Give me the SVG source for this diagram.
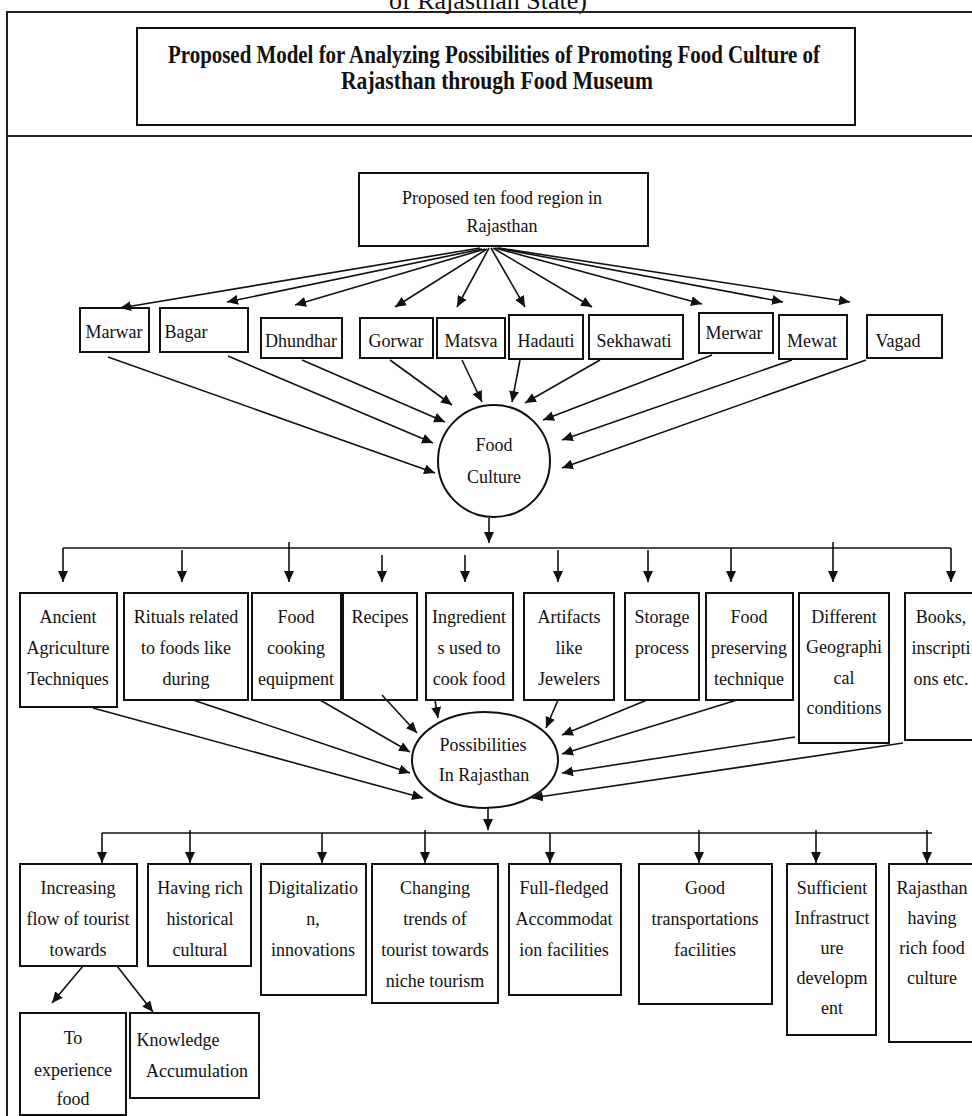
<svg xmlns="http://www.w3.org/2000/svg" width="972" height="1116" viewBox="0 0 972 1116">
<style>
.bx{fill:#fff;stroke:#111;stroke-width:2}
.fr{fill:none;stroke:#222;stroke-width:2}
.t{font-family:"Liberation Serif","Times New Roman",serif;font-size:18px;fill:#111;text-anchor:middle}
.ttl{font-family:"Liberation Serif","Times New Roman",serif;font-size:25px;font-weight:bold;fill:#111;text-anchor:middle}
.ln{fill:none;stroke:#111;stroke-width:1.6}
.ar{fill:none;stroke:#111;stroke-width:1.6;marker-end:url(#ah)}
</style>
<defs>
<marker id="ah" markerUnits="userSpaceOnUse" markerWidth="12" markerHeight="10" refX="11" refY="5" orient="auto">
<path d="M0,0 L11,5 L0,10 z" fill="#111"/>
</marker>
</defs>
<rect width="972" height="1116" fill="#fff"/>
<text x="488" y="9" font-family="Liberation Serif, serif" font-size="26" text-anchor="middle" fill="#111">of Rajasthan State)</text>
<g id="frame">
<path class="fr" d="M7,1116 V12 H972"/>
<path class="fr" d="M7,136 H972"/>
</g>
<g id="title">
<rect class="bx" x="137" y="28" width="718" height="97"/>
<text class="ttl" x="494" y="63" textLength="652" lengthAdjust="spacingAndGlyphs">Proposed Model for Analyzing Possibilities of Promoting Food Culture of</text>
<text class="ttl" x="497" y="89" textLength="312" lengthAdjust="spacingAndGlyphs">Rajasthan through Food Museum</text>
</g>
<g id="n-top"><rect class="bx" x="359" y="173" width="289" height="73"/><text class="t" x="502" y="204">Proposed ten food region in</text><text class="t" x="502" y="232">Rajasthan</text></g>
<g id="n-marwar"><rect class="bx" x="80" y="308" width="69" height="44"/><text class="t" x="114" y="338">Marwar</text></g>
<g id="n-bagar"><rect class="bx" x="160" y="308" width="88" height="44"/><text class="t" x="186" y="338">Bagar</text></g>
<g id="n-dhundhar"><rect class="bx" x="261" y="318" width="81" height="40"/><text class="t" x="301" y="347">Dhundhar</text></g>
<g id="n-gorwar"><rect class="bx" x="360" y="318" width="73" height="40"/><text class="t" x="396" y="347">Gorwar</text></g>
<g id="n-matsva"><rect class="bx" x="437" y="318" width="68" height="40"/><text class="t" x="471" y="347">Matsva</text></g>
<g id="n-hadauti"><rect class="bx" x="509" y="315" width="74" height="44"/><text class="t" x="546" y="347">Hadauti</text></g>
<g id="n-sekhawati"><rect class="bx" x="589" y="315" width="94" height="44"/><text class="t" x="634" y="347">Sekhawati</text></g>
<g id="n-merwar"><rect class="bx" x="699" y="313" width="74" height="40"/><text class="t" x="734" y="339">Merwar</text></g>
<g id="n-mewat"><rect class="bx" x="779" y="315" width="68" height="44"/><text class="t" x="812" y="347">Mewat</text></g>
<g id="n-vagad"><rect class="bx" x="867" y="315" width="75" height="43"/><text class="t" x="898" y="347">Vagad</text></g>
<g id="n-foodculture"><ellipse class="bx" cx="494" cy="461" rx="56" ry="56"/><text class="t" x="494" y="451">Food</text><text class="t" x="494" y="483">Culture</text></g>
<g id="n-ancient"><rect class="bx" x="20" y="593" width="97" height="114"/><text class="t" x="68" y="623">Ancient</text><text class="t" x="68" y="654">Agriculture</text><text class="t" x="68" y="685">Techniques</text></g>
<g id="n-rituals"><rect class="bx" x="124" y="593" width="124" height="107"/><text class="t" x="186" y="623">Rituals related</text><text class="t" x="186" y="654">to foods like</text><text class="t" x="186" y="685">during</text></g>
<g id="n-cooking"><rect class="bx" x="252" y="593" width="89" height="107"/><text class="t" x="296" y="623">Food</text><text class="t" x="296" y="654">cooking</text><text class="t" x="296" y="685">equipment</text></g>
<g id="n-recipes"><rect class="bx" x="343" y="593" width="74" height="107"/><text class="t" x="380" y="623">Recipes</text></g>
<g id="n-ingredients"><rect class="bx" x="426" y="593" width="87" height="107"/><text class="t" x="469" y="623">Ingredient</text><text class="t" x="469" y="654">s used to</text><text class="t" x="469" y="685">cook food</text></g>
<g id="n-artifacts"><rect class="bx" x="524" y="593" width="90" height="107"/><text class="t" x="569" y="623">Artifacts</text><text class="t" x="569" y="654">like</text><text class="t" x="569" y="685">Jewelers</text></g>
<g id="n-storage"><rect class="bx" x="625" y="593" width="74" height="107"/><text class="t" x="662" y="623">Storage</text><text class="t" x="662" y="654">process</text></g>
<g id="n-preserving"><rect class="bx" x="706" y="593" width="87" height="107"/><text class="t" x="749" y="623">Food</text><text class="t" x="749" y="654">preserving</text><text class="t" x="749" y="685">technique</text></g>
<g id="n-different"><rect class="bx" x="799" y="593" width="90" height="150"/><text class="t" x="844" y="623">Different</text><text class="t" x="844" y="653">Geographi</text><text class="t" x="844" y="684">cal</text><text class="t" x="844" y="714">conditions</text></g>
<g id="n-books"><rect class="bx" x="905" y="593" width="80" height="147"/><text class="t" x="941" y="623">Books,</text><text class="t" x="941" y="654">inscripti</text><text class="t" x="941" y="685">ons etc.</text></g>
<g id="n-possibilities"><ellipse class="bx" cx="485" cy="760" rx="73" ry="48"/><text class="t" x="483" y="751">Possibilities</text><text class="t" x="484" y="781">In Rajasthan</text></g>
<g id="n-increasing"><rect class="bx" x="20" y="864" width="117" height="102"/><text class="t" x="78" y="894">Increasing</text><text class="t" x="78" y="925">flow of tourist</text><text class="t" x="78" y="956">towards</text></g>
<g id="n-having"><rect class="bx" x="148" y="864" width="103" height="102"/><text class="t" x="200" y="894">Having rich</text><text class="t" x="200" y="925">historical</text><text class="t" x="200" y="956">cultural</text></g>
<g id="n-digital"><rect class="bx" x="261" y="864" width="105" height="131"/><text class="t" x="313" y="894">Digitalizatio</text><text class="t" x="313" y="925">n,</text><text class="t" x="313" y="956">innovations</text></g>
<g id="n-changing"><rect class="bx" x="372" y="864" width="126" height="139"/><text class="t" x="435" y="894">Changing</text><text class="t" x="435" y="925">trends of</text><text class="t" x="435" y="956">tourist towards</text><text class="t" x="435" y="987">niche tourism</text></g>
<g id="n-fullfledged"><rect class="bx" x="509" y="864" width="112" height="131"/><text class="t" x="564" y="894">Full-fledged</text><text class="t" x="564" y="925">Accommodat</text><text class="t" x="564" y="956">ion facilities</text></g>
<g id="n-transport"><rect class="bx" x="639" y="864" width="133" height="140"/><text class="t" x="705" y="894">Good</text><text class="t" x="705" y="925">transportations</text><text class="t" x="705" y="956">facilities</text></g>
<g id="n-infra"><rect class="bx" x="787" y="864" width="89" height="171"/><text class="t" x="832" y="894">Sufficient</text><text class="t" x="832" y="924">Infrastruct</text><text class="t" x="832" y="954">ure</text><text class="t" x="832" y="984">developm</text><text class="t" x="832" y="1014">ent</text></g>
<g id="n-richfood"><rect class="bx" x="889" y="864" width="96" height="178"/><text class="t" x="932" y="894">Rajasthan</text><text class="t" x="932" y="924">having</text><text class="t" x="932" y="954">rich food</text><text class="t" x="932" y="984">culture</text></g>
<g id="n-experience"><rect class="bx" x="20" y="1013" width="106" height="102"/><text class="t" x="73" y="1044">To</text><text class="t" x="73" y="1076">experience</text><text class="t" x="73" y="1105">food</text></g>
<g id="n-knowledge"><rect class="bx" x="130" y="1013" width="129" height="85"/><text class="t" x="178" y="1046">Knowledge</text><text class="t" x="197" y="1077">Accumulation</text></g>
<g id="connectors">
<path class="ar" d="M480,248 L120,308"/>
<path class="ar" d="M482,249 L227,302"/>
<path class="ar" d="M485,249 L295,305"/>
<path class="ar" d="M487,249 L395,307"/>
<path class="ar" d="M489,248 L457,307"/>
<path class="ar" d="M491,248 L525,307"/>
<path class="ar" d="M493,248 L592,307"/>
<path class="ar" d="M495,248 L702,304"/>
<path class="ar" d="M497,248 L783,302"/>
<path class="ar" d="M499,248 L850,302"/>
<path class="ar" d="M108,357 L435,473"/>
<path class="ar" d="M228,356 L433,443"/>
<path class="ar" d="M302,360 L445,422"/>
<path class="ar" d="M390,360 L452,405"/>
<path class="ar" d="M462,360 L482,402"/>
<path class="ar" d="M520,360 L512,402"/>
<path class="ar" d="M600,360 L525,403"/>
<path class="ar" d="M712,355 L543,420"/>
<path class="ar" d="M792,360 L562,440"/>
<path class="ar" d="M866,360 L562,468"/>
<path class="ar" d="M489,518 L489,543"/>
<path class="ln" d="M63,548 H951"/>
<path class="ar" d="M63,548 V582"/>
<path class="ar" d="M182,550 V582"/>
<path class="ar" d="M289,542 V582"/>
<path class="ar" d="M382,555 V582"/>
<path class="ar" d="M465,555 V582"/>
<path class="ar" d="M558,550 V582"/>
<path class="ar" d="M648,550 V582"/>
<path class="ar" d="M731,548 V582"/>
<path class="ar" d="M833,542 V582"/>
<path class="ar" d="M951,548 V582"/>
<path class="ar" d="M93,708 L423,798"/>
<path class="ar" d="M193,700 L410,773"/>
<path class="ar" d="M320,700 L410,752"/>
<path class="ar" d="M382,695 L417,733"/>
<path class="ar" d="M435,700 L438,718"/>
<path class="ar" d="M558,700 L546,728"/>
<path class="ar" d="M647,700 L562,735"/>
<path class="ar" d="M737,700 L562,754"/>
<path class="ar" d="M795,737 L562,773"/>
<path class="ar" d="M903,743 L532,798"/>
<path class="ar" d="M488,808 L488,830"/>
<path class="ln" d="M102,833 H932"/>
<path class="ar" d="M102,833 V863"/>
<path class="ar" d="M190,830 V863"/>
<path class="ar" d="M322,833 V863"/>
<path class="ar" d="M425,830 V863"/>
<path class="ar" d="M550,833 V863"/>
<path class="ar" d="M699,830 V863"/>
<path class="ar" d="M816,830 V863"/>
<path class="ar" d="M927,830 V863"/>
<path class="ar" d="M83,966 L52,1003"/>
<path class="ar" d="M117,966 L153,1012"/>
</g>
</svg>
